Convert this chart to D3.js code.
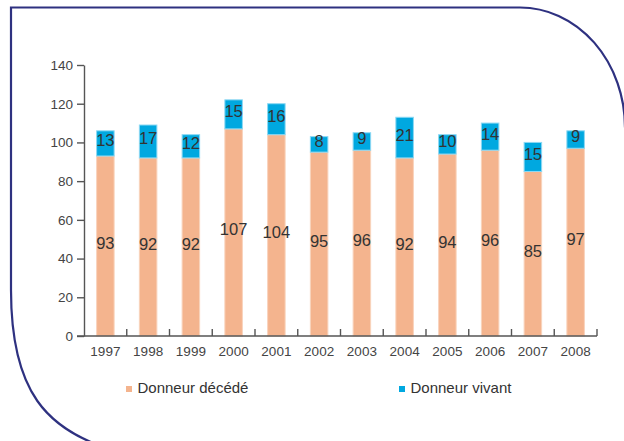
<!DOCTYPE html>
<html>
<head>
<meta charset="utf-8">
<script src="https://cdn.jsdelivr.net/npm/d3@7/dist/d3.min.js"></script>
<style>
  html, body { margin: 0; padding: 0; background: #fff; }
  svg { display: block; }
  text { font-family: "Liberation Sans", Arial, sans-serif; }
</style>
</head>
<body>
<svg id="chart" width="624" height="441"></svg>
<script>
const years = ["1997","1998","1999","2000","2001","2002","2003","2004","2005","2006","2007","2008"];
const deceased = [93, 92, 92, 107, 104, 95, 96, 92, 94, 96, 85, 97];
const living = [13, 17, 12, 15, 16, 8, 9, 21, 10, 14, 15, 9];
const yTicks = [0, 20, 40, 60, 80, 100, 120, 140];
const seriesNames = ["Donneur décédé", "Donneur vivant"];
const seriesColors = ["#F4B48E", "#00A8E0"];
const seriesStrokes = ["#F9D3BC", "#8DD8F3"];

const svg = d3.select("#chart");

// decorative frame
svg.append("path")
  .attr("d", "M120,452 C45,432 11,390 11,290 L11,7.5 L520,7.5 A105,120 0 0 1 625,127.5")
  .attr("fill", "none")
  .attr("stroke", "#2E3180")
  .attr("stroke-width", 2.2);

const x = d3.scaleBand().domain(years).range([84, 597]).paddingInner(0.59).paddingOuter(0.295);
const y = d3.scaleLinear().domain([0, 140]).range([336, 65]);

const data = years.map((yr, i) => ({ year: yr, values: [deceased[i], living[i]] }));
const stack = d3.stack().keys([0, 1]).value((d, k) => d.values[k]);
const stacked = stack(data);

const g = svg.append("g");
stacked.forEach((layer, k) => {
  g.selectAll(null).data(layer).enter().append("rect")
    .attr("x", d => x(d.data.year))
    .attr("width", x.bandwidth())
    .attr("y", d => y(d[1]))
    .attr("height", d => y(d[0]) - y(d[1]))
    .attr("fill", seriesColors[k])
    .attr("stroke", seriesStrokes[k])
    .attr("stroke-width", 1);
});

// value labels
stacked.forEach((layer, k) => {
  g.selectAll(null).data(layer).enter().append("text")
    .attr("x", d => x(d.data.year) + x.bandwidth() / 2)
    .attr("y", d => (y(d[0]) + y(d[1])) / 2 - 3)
    .attr("dy", "0.36em")
    .attr("text-anchor", "middle")
    .attr("font-size", 16.5)
    .attr("fill", "#333")
    .text(d => d.data.values[k]);
});

// y axis
const yAxis = svg.append("g")
  .attr("transform", "translate(84,0)")
  .call(d3.axisLeft(y).tickValues(yTicks).tickSize(7).tickPadding(4).tickSizeOuter(0));
yAxis.select(".domain").attr("stroke", "#555").attr("stroke-width", 1.4);
yAxis.selectAll(".tick line").attr("stroke", "#555").attr("stroke-width", 1.4);
yAxis.selectAll(".tick text").attr("font-size", 13.5).attr("fill", "#444")
  .style("font-family", "'Liberation Sans', Arial, sans-serif");

// x axis
const xAxis = svg.append("g")
  .attr("transform", "translate(0,336)")
  .call(d3.axisBottom(x).tickSize(0).tickPadding(10).tickSizeOuter(0));
xAxis.select(".domain").remove();
xAxis.selectAll(".tick text").attr("font-size", 13.5).attr("fill", "#444")
  .style("font-family", "'Liberation Sans', Arial, sans-serif");
xAxis.append("line")
  .attr("x1", 77).attr("x2", x.range()[1])
  .attr("y1", 0).attr("y2", 0)
  .attr("stroke", "#555").attr("stroke-width", 1.4);
const boundaries = d3.range(1, years.length + 1).map(i => x.range()[0] + i * x.step());
xAxis.selectAll(null).data(boundaries).enter().append("line")
  .attr("x1", d => d).attr("x2", d => d)
  .attr("y1", 0).attr("y2", -7)
  .attr("stroke", "#555").attr("stroke-width", 1.4);

// legend
const legendX = [126, 399];
seriesNames.forEach((name, k) => {
  const lg = svg.append("g").attr("transform", `translate(${legendX[k]},386)`);
  lg.append("rect").attr("width", 6).attr("height", 6).attr("fill", seriesColors[k]);
  lg.append("text").attr("x", 11.5).attr("y", 7).attr("font-size", 15).attr("fill", "#333").text(name);
});
</script>
</body>
</html>
